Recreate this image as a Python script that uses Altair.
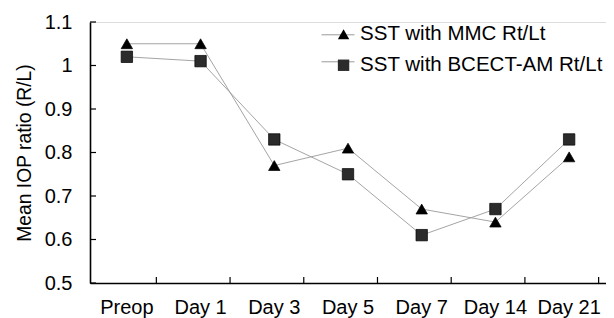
import altair as alt
import pandas as pd

categories = ["Preop", "Day 1", "Day 3", "Day 5", "Day 7", "Day 14", "Day 21"]
series_names = ["SST with MMC Rt/Lt", "SST with BCECT-AM Rt/Lt"]
line_keys = ["line MMC", "line BCECT-AM"]
mmc_values = [1.05, 1.05, 0.77, 0.81, 0.67, 0.64, 0.79]
bcect_values = [1.02, 1.01, 0.83, 0.75, 0.61, 0.67, 0.83]
y_ticks = [0.5, 0.6, 0.7, 0.8, 0.9, 1.0, 1.1]

rows = []
for name, key, vals in zip(series_names, line_keys, [mmc_values, bcect_values]):
    for c, v in zip(categories, vals):
        rows.append({"day": c, "series": name, "line_series": key, "ratio": v})
df = pd.DataFrame(rows)
tick_df = pd.DataFrame({"t": y_ticks})
cat_df = pd.DataFrame({"day": categories})

W, H = 516, 261
FONT = "Liberation Sans"

xscale = alt.Scale(type="band", paddingInner=0, paddingOuter=0)
yscale = alt.Scale(domain=[0.5, 1.1], nice=False, zero=False)

x_axis = alt.Axis(title=None, ticks=False, grid=False, domainColor="black",
                  domainWidth=1.6, labelFontSize=20, labelFont=FONT,
                  labelColor="black", labelPadding=14, labelAngle=0)
y_axis = alt.Axis(title="Mean IOP ratio (R/L)", values=y_ticks, format="~g",
                  ticks=False, grid=False, domainColor="black", domainWidth=1.6,
                  labelFontSize=20, labelFont=FONT, labelColor="black",
                  labelPadding=18, titleFontSize=19.3, titleFont=FONT,
                  titleFontWeight="normal", titleColor="black", titlePadding=10)

LINE_GRAY = "#9a9a9a"

line_legend = alt.Legend(
    title=None, orient="none", legendX=242, legendY=6.8,
    symbolType="M-3,0H3", symbolSize=121, symbolStrokeWidth=1,
    labelExpr="''", labelFontSize=1, rowPadding=19, padding=0, labelOffset=0,
)

point_legend = alt.Legend(
    title=None, orient="none", legendX=243.3, legendY=2, symbolSize=130,
    symbolStrokeColor="black", symbolStrokeWidth=0.7, symbolOpacity=1,
    labelFontSize=20.5, labelFont=FONT, labelColor="black", labelLimit=400,
    rowPadding=10, padding=0, labelOffset=6.3,
)

X = alt.X("day:N", sort=categories, scale=xscale, axis=x_axis)

lines = alt.Chart(df).mark_line(strokeWidth=0.9).encode(
    x=X,
    y=alt.Y("ratio:Q", scale=yscale, axis=y_axis),
    color=alt.Color("line_series:N", sort=line_keys,
                    scale=alt.Scale(domain=line_keys, range=[LINE_GRAY, LINE_GRAY]),
                    legend=line_legend),
)

points = alt.Chart(df).mark_point(filled=True, size=130, stroke="black",
                                  strokeWidth=0.7, opacity=1).encode(
    x=X,
    y=alt.Y("ratio:Q", scale=yscale, axis=y_axis),
    shape=alt.Shape("series:N", sort=series_names,
                    scale=alt.Scale(domain=series_names, range=["triangle-up", "square"]),
                    legend=point_legend),
    fill=alt.Fill("series:N", sort=series_names,
                  scale=alt.Scale(domain=series_names, range=["#000000", "#2b2b2b"]),
                  legend=point_legend),
)

yticks = alt.Chart(tick_df).mark_rule(color="black", strokeWidth=1.2).encode(
    y=alt.Y("t:Q", scale=yscale, axis=y_axis),
    x=alt.value(0), x2=alt.value(6),
)

xticks = alt.Chart(cat_df).mark_rule(color="black", strokeWidth=1.2).encode(
    x=alt.X("day:N", sort=categories, scale=xscale, axis=x_axis, bandPosition=0.9),
    y=alt.value(H), y2=alt.value(H - 6),
)

chart = alt.layer(lines, yticks, xticks, points).properties(
    width=W, height=H,
    padding={"left": 82, "top": 14, "right": 0, "bottom": 40},
    autosize="none",
).configure_view(stroke=None).configure(background="white")

chart.save("out.html", embed_options={"renderer": "svg", "actions": False})
